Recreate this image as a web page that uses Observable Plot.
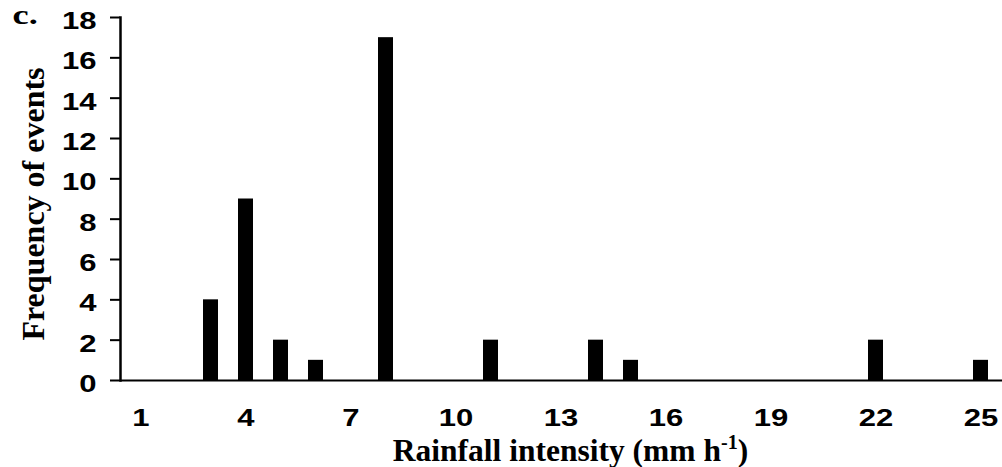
<!DOCTYPE html>
<html>
<head>
<meta charset="utf-8">
<script src="https://cdn.jsdelivr.net/npm/d3@7"></script>
<script src="https://cdn.jsdelivr.net/npm/@observablehq/plot@0.6"></script>
<style>
  html, body { margin: 0; padding: 0; background: #fff; }
</style>
</head>
<body>
<div id="chart"></div>
<script>
// Rainfall intensity classes (mm h-1) and number of events in each class
const intensity = [1, 2, 3, 4, 5, 6, 7, 8, 9, 10, 11, 12, 13, 14, 15, 16, 17, 18, 19, 20, 21, 22, 23, 24, 25];
const frequency = [0, 0, 4, 9, 2, 1, 0, 17, 0, 0, 2, 0, 0, 2, 1, 0, 0, 0, 0, 0, 0, 2, 0, 0, 1];

// Axis ticks
const xTicks = [1, 4, 7, 10, 13, 16, 19, 22, 25];
const yTicks = [0, 2, 4, 6, 8, 10, 12, 14, 16, 18];

// Texts
const panelTag = "c.";
const yTitle = "Frequency of events";
const xTitle = "Rainfall intensity (mm h";
const xTitleSup = "-1";
const xTitleEnd = ")";

const rows = intensity.map((x, i) => ({x, y: frequency[i]}));
const serif = "'Liberation Serif', 'Times New Roman', serif";

const plot = Plot.plot({
  width: 1002,
  height: 467,
  marginTop: 17,
  marginBottom: 87,
  marginLeft: 120,
  marginRight: 0,
  style: {
    fontFamily: "'Liberation Sans', Arial, sans-serif",
    fontWeight: "bold",
    fontSize: "23px",
    color: "#000",
    background: "#fff",
    overflow: "visible"
  },
  x: {type: "band", domain: intensity, paddingInner: 0.56, paddingOuter: 0.28, align: 0.5},
  y: {domain: [0, 18]},
  marks: [
    Plot.barY(rows.filter(d => d.y > 0), {x: "x", y: "y", fill: "#000"}),
    Plot.ruleY([0], {stroke: "#000", strokeWidth: 2}),
    Plot.frame({anchor: "left", stroke: "#000", strokeWidth: 2.5}),
    Plot.axisY(yTicks, {tickSize: 10, strokeWidth: 2, fill: "none", label: null}),
    Plot.axisY(yTicks, {tickSize: 0, tickPadding: 24, dy: 4, label: null}),
    Plot.axisX(xTicks, {tickSize: 0, tickPadding: 29, label: null}),
    Plot.text([yTitle], {
      text: d => d, frameAnchor: "left", textAnchor: "middle", lineAnchor: "middle",
      rotate: -90, dx: -87, dy: 5,
      fontFamily: serif, fontSize: 32, fontWeight: "bold"
    }),
    Plot.text([panelTag], {
      text: d => d, frameAnchor: "top-left", textAnchor: "start", lineAnchor: "middle",
      dx: -108, dy: -2,
      fontFamily: serif, fontSize: 28, fontWeight: "bold"
    }),
    Plot.text([xTitle], {
      text: d => d, frameAnchor: "bottom", textAnchor: "middle", lineAnchor: "middle",
      dx: 9, dy: 70,
      fontFamily: serif, fontSize: 31.5, fontWeight: "bold"
    })
  ]
});

// Widen the bold sans tick labels and the panel tag horizontally
function stretchX(nodes, k) {
  nodes.forEach(node => {
    const t = node.getAttribute("transform") || "";
    const x = parseFloat(node.getAttribute("x")) || 0;
    node.setAttribute("transform", `${t} translate(${x},0) scale(${k},1) translate(${-x},0)`);
  });
}
const allText = Array.from(plot.querySelectorAll("text"));
stretchX(plot.querySelectorAll('g[aria-label="y-axis tick label"] text, g[aria-label="x-axis tick label"] text'), 1.35);
stretchX(allText.filter(t => t.textContent === panelTag), 1.3);

// Unit superscript in the x title
const svgNS = "http://www.w3.org/2000/svg";
const xt = allText.find(t => t.textContent === xTitle);
if (xt) {
  const sup = document.createElementNS(svgNS, "tspan");
  sup.textContent = xTitleSup;
  sup.setAttribute("dy", "-12");
  sup.setAttribute("font-size", "20");
  const end = document.createElementNS(svgNS, "tspan");
  end.textContent = xTitleEnd;
  end.setAttribute("dy", "12");
  xt.append(sup, end);
}

document.getElementById("chart").append(plot);
</script>
</body>
</html>
